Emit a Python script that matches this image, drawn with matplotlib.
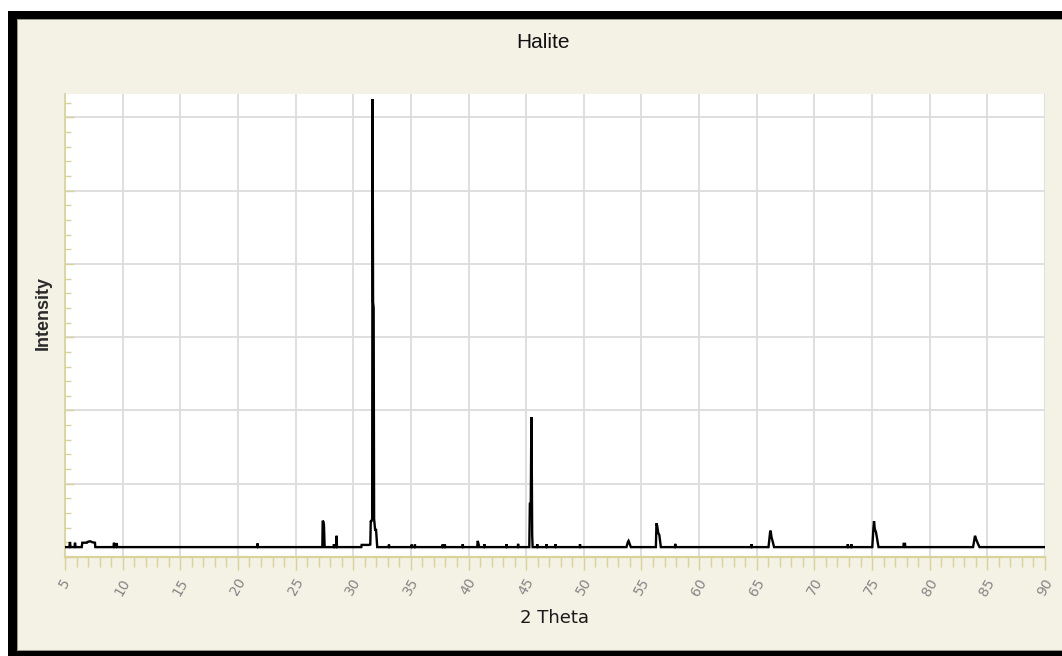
"""
Diffractogramme de la halite (NaCl) : intensité en fonction de 2 Theta.
"""

import matplotlib.pyplot as plt
from matplotlib.patches import Rectangle
from matplotlib.ticker import MultipleLocator, NullFormatter

# ============================================================================
# Données (intensité en unités arbitraires)
# ============================================================================

BASE = 135

TWO_THETA = [
    5.0,
    5.38, 5.43, 5.48,
    5.82, 5.87, 5.92,
    6.45, 6.5, 6.9, 6.95, 7.17, 7.4, 7.6, 7.63,
    9.2, 9.25, 9.3,
    9.43, 9.48, 9.53,
    21.66, 21.7, 21.74,
    27.32, 27.35, 27.42, 27.46, 27.52,
    28.3, 28.33, 28.36,
    28.53, 28.56, 28.59,
    30.7, 30.73, 31.4, 31.48, 31.52, 31.56, 31.64, 31.68, 31.72, 31.77,
    31.81, 31.9, 31.98, 32.08,
    33.07, 33.1, 33.13,
    35.04, 35.07, 35.1,
    35.32, 35.35, 35.38,
    37.72, 37.75, 37.78,
    37.92, 37.95, 37.98,
    39.47, 39.5, 39.53,
    40.75, 40.8, 40.88, 40.92,
    41.34, 41.37, 41.4,
    43.27, 43.3, 43.33,
    44.27, 44.3, 44.33,
    45.27, 45.32, 45.4, 45.45, 45.49, 45.52, 45.56,
    45.93, 45.96, 45.99,
    46.74, 46.77, 46.8,
    47.52, 47.55, 47.58,
    49.64, 49.67, 49.7,
    53.7, 53.82, 53.88, 54.0, 54.08,
    56.25, 56.3, 56.37, 56.45, 56.55, 56.68,
    57.9, 57.93, 57.96,
    64.51, 64.54, 64.57,
    66.02, 66.15, 66.2, 66.28, 66.4, 66.5,
    72.87, 72.9, 72.93,
    73.17, 73.2, 73.23,
    75.02, 75.12, 75.17, 75.24, 75.34, 75.44, 75.56,
    77.72, 77.74, 77.86, 77.88,
    83.76, 83.88, 83.93, 84.03, 84.16, 84.32,
    90.0,
]

INTENSITY = [
    BASE,
    BASE, 205, BASE,
    BASE, 195, BASE,
    BASE, 195, 195, 205, 215, 200, 195, BASE,
    BASE, 195, BASE,
    BASE, 190, BASE,
    BASE, 185, BASE,
    BASE, 495, 480, 440, BASE,
    BASE, 175, BASE,
    BASE, 290, BASE,
    BASE, 165, 165, 170, 495, 480, 520, 6250, 3480, 3400,
    520, 370, 370, BASE,
    BASE, 170, BASE,
    BASE, 170, BASE,
    BASE, 170, BASE,
    BASE, 170, BASE,
    BASE, 170, BASE,
    BASE, 175, BASE,
    BASE, 220, 170, BASE,
    BASE, 175, BASE,
    BASE, 175, BASE,
    BASE, 180, BASE,
    BASE, 730, 740, 1910, 1150, 300, BASE,
    BASE, 175, BASE,
    BASE, 175, BASE,
    BASE, 175, BASE,
    BASE, 175, BASE,
    BASE, 205, 220, 170, BASE,
    BASE, 460, 420, 330, 300, BASE,
    BASE, 180, BASE,
    BASE, 175, BASE,
    BASE, 330, 360, 270, 200, BASE,
    BASE, 175, BASE,
    BASE, 175, BASE,
    BASE, 400, 490, 380, 340, 250, BASE,
    BASE, 180, 180, BASE,
    BASE, 250, 290, 240, 190, BASE,
    BASE,
]

TITLE = "Halite"
X_LABEL = "2 Theta"
Y_LABEL = "Intensity"

# ============================================================================
# Style
# ============================================================================

BEIGE = "#F4F1E5"
AXIS_YELLOW = "#D8D29B"
GRID_GREY = "#DCDCDC"
TICK_GREY = "#858585"

W, H = 1062, 656


def px_rect(fig, x0, y0, x1, y1, color, z):
    """Rectangle en pixels (origine en haut à gauche) ajouté à la figure."""
    fig.patches.append(
        Rectangle(
            (x0 / W, 1 - y1 / H),
            (x1 - x0) / W,
            (y1 - y0) / H,
            transform=fig.transFigure,
            facecolor=color,
            edgecolor="none",
            zorder=z,
        )
    )


def main():
    fig = plt.figure(figsize=(W / 100, H / 100), dpi=100, facecolor="white")

    # cadre : fond beige, bordures noires à gauche, en haut et en bas
    px_rect(fig, 8, 11, W, H, BEIGE, -3)
    px_rect(fig, 17, 19, W, 20, "#9C9886", -2)
    px_rect(fig, 17, 19, 18, 651, "#9C9886", -2)
    px_rect(fig, 17, 650, W, 651, "#9C9886", -2)
    px_rect(fig, 8, 11, W, 19, "black", -1)
    px_rect(fig, 8, 11, 17, H, "black", -1)
    px_rect(fig, 8, 651, W, H, "black", -1)

    ax = fig.add_axes([65 / W, 1 - 557 / H, 980 / W, 463 / H])
    ax.set_facecolor("white")

    ax.plot(TWO_THETA, INTENSITY, color="black", lw=1.7, zorder=3,
            solid_joinstyle="miter")

    ax.set_xlim(5, 90)
    ax.set_ylim(0, 6320)

    ax.xaxis.set_major_locator(MultipleLocator(5))
    ax.xaxis.set_minor_locator(MultipleLocator(1))
    ax.yaxis.set_major_locator(MultipleLocator(1000))
    ax.yaxis.set_minor_locator(MultipleLocator(200))
    ax.yaxis.set_major_formatter(NullFormatter())

    ax.grid(True, which="major", color=GRID_GREY, lw=1.3, zorder=0)

    for side in ("top", "right"):
        ax.spines[side].set_visible(False)
    ax.spines["left"].set_color(AXIS_YELLOW)
    ax.spines["left"].set_linewidth(1.2)
    ax.spines["bottom"].set_color(AXIS_YELLOW)
    ax.spines["bottom"].set_linewidth(1.6)

    ax.tick_params(axis="x", which="major", direction="out", length=9.5,
                   width=1, color=AXIS_YELLOW, labelcolor=TICK_GREY,
                   labelsize=10, pad=4)
    ax.tick_params(axis="x", which="minor", direction="out", length=7,
                   width=1, color=AXIS_YELLOW)
    ax.tick_params(axis="y", which="major", direction="in", length=6.5,
                   width=1, color=AXIS_YELLOW)
    ax.tick_params(axis="y", which="minor", direction="in", length=4.3,
                   width=1, color=AXIS_YELLOW)
    for lab in ax.get_xticklabels():
        lab.set_rotation(60)
        lab.set_ha("center")
        lab.set_va("top")

    fig.text(543 / W, 1 - 42 / H, TITLE, ha="center", va="center",
             fontsize=15, family="Liberation Sans", color="#111111")
    fig.text(555 / W, 1 - 618 / H, X_LABEL, ha="center", va="center",
             fontsize=13, family="DejaVu Sans", color="#1A1A1A")
    fig.text(43 / W, 1 - 313 / H, Y_LABEL, ha="center", va="center",
             rotation=90, fontsize=13, family="Liberation Sans",
             fontweight="bold", color="#2A2A2A")

    fig.savefig("out.png", dpi=100, facecolor="white")
    plt.close(fig)


if __name__ == "__main__":
    main()
